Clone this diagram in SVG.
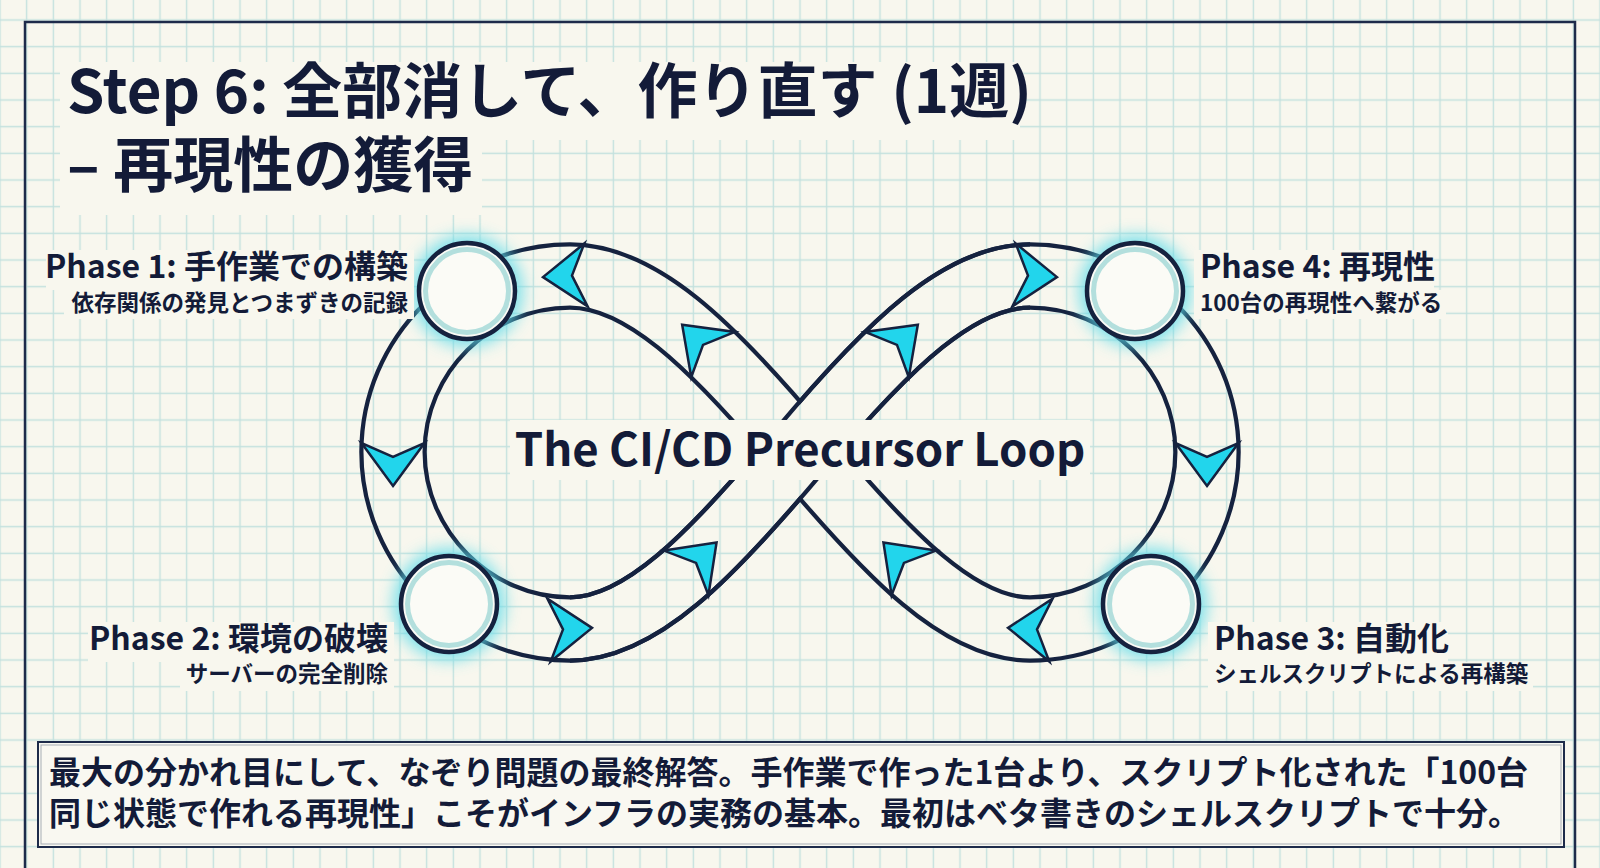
<svg xmlns="http://www.w3.org/2000/svg" width="1600" height="868" viewBox="0 0 1600 868">
<defs>
<style>
.t{font-family:"Noto Sans CJK JP","Noto Sans",sans-serif;font-weight:700;fill:#131b38}
.title{font-size:60px}
.ph{font-size:32px}
.sub{font-size:22.5px}
.ctr{font-size:45.5px}
.body{font-size:32px}
.bg{fill:#f8f7ee}
.ring{fill:#fbfbf6;stroke:#15223f;stroke-width:4.5}
.inner{fill:none;stroke:#b3dfdd;stroke-width:5}
.glow{fill:#5fdcea;opacity:.8}
.arrow{fill:#22d5ec;stroke:#15223f;stroke-width:2.5;stroke-linejoin:miter}
.edge{fill:none;stroke:#15223f;stroke-width:67.5;stroke-linejoin:round}
</style>
<pattern id="grid" patternUnits="userSpaceOnUse" x="-13.333" y="6.667" width="26.667" height="26.667">
<path d="M13.333 0V26.667M0 13.333H26.667" stroke="#c3e1de" stroke-width="1.4" fill="none"/>
</pattern>
<filter id="blur" x="-50%" y="-50%" width="200%" height="200%"><feGaussianBlur stdDeviation="8"/></filter>
<path id="loop" d="M800 450 C890 342.8 960 276 1030 276 C1127 276 1207 355 1207 452 C1207 548 1127 629 1030 629 C960 629 890 557.2 800 450 C710 342.8 640 276 570 276 C473 276 393 355 393 452 C393 548 473 629 570 629 C640 629 710 557.2 800 450 Z"/>
<path id="band2" d="M570 629 C640 629 710 557.2 800 450 C890 342.8 960 276 1030 276"/>
<mask id="m1" maskUnits="userSpaceOnUse" x="0" y="0" width="1600" height="868">
<rect width="1600" height="868" fill="#fff"/>
<use href="#loop" fill="none" stroke="#000" stroke-width="59" stroke-linejoin="round"/>
</mask>
<mask id="m2" maskUnits="userSpaceOnUse" x="0" y="0" width="1600" height="868">
<rect width="1600" height="868" fill="#fff"/>
<use href="#band2" fill="none" stroke="#000" stroke-width="59"/>
</mask>
<path id="arr" d="M22 0 L-21 -31.5 L-7 0 L-21 31.5 Z"/>
</defs>

<rect width="1600" height="868" fill="#f8f7ee"/>
<rect width="1600" height="868" fill="url(#grid)"/>
<rect x="25" y="22" width="1550" height="880" fill="none" stroke="#1d2b4a" stroke-width="2.5"/>

<g id="title">
<rect class="bg" x="60" y="62" width="960" height="78"/>
<rect class="bg" x="60" y="140" width="422" height="75"/>
<text class="t title" x="67" y="113">Step 6: 全部消して、作り直す (1週)</text>
<text class="t title" x="67" y="187">– 再現性の獲得</text>
</g>

<g id="connectors">
<use href="#loop" class="edge" mask="url(#m1)"/>
<use href="#band2" class="edge" mask="url(#m2)"/>
<use href="#arr" class="arrow" transform="translate(565 276) rotate(177)"/>
<use href="#arr" class="arrow" transform="translate(393 464) rotate(90)"/>
<use href="#arr" class="arrow" transform="translate(570 629) rotate(-3)"/>
<use href="#arr" class="arrow" transform="translate(701 558) rotate(-45)"/>
<use href="#arr" class="arrow" transform="translate(698 340) rotate(-136)"/>
<use href="#arr" class="arrow" transform="translate(902 340) rotate(-44)"/>
<use href="#arr" class="arrow" transform="translate(1035 276) rotate(3)"/>
<use href="#arr" class="arrow" transform="translate(1207 464) rotate(90)"/>
<use href="#arr" class="arrow" transform="translate(1030 629) rotate(183)"/>
<use href="#arr" class="arrow" transform="translate(899 558) rotate(-135)"/>
</g>

<g id="phase1">
<circle class="glow" cx="467" cy="291" r="56" filter="url(#blur)"/>
<circle class="ring" cx="467" cy="291" r="48"/>
<circle class="inner" cx="467" cy="291" r="41.5"/>
<rect class="bg" x="46" y="250" width="368" height="40"/>
<rect class="bg" x="64" y="290" width="350" height="29"/>
<text class="t ph" x="408" y="278" text-anchor="end">Phase 1: 手作業での構築</text>
<text class="t sub" x="408" y="311" text-anchor="end">依存関係の発見とつまずきの記録</text>
</g>

<g id="phase2">
<circle class="glow" cx="449" cy="604" r="56" filter="url(#blur)"/>
<circle class="ring" cx="449" cy="604" r="48"/>
<circle class="inner" cx="449" cy="604" r="41.5"/>
<rect class="bg" x="88" y="622" width="306" height="40"/>
<rect class="bg" x="180" y="662" width="214" height="29"/>
<text class="t ph" x="388" y="650" text-anchor="end">Phase 2: 環境の破壊</text>
<text class="t sub" x="388" y="682" text-anchor="end">サーバーの完全削除</text>
</g>

<g id="phase3">
<circle class="glow" cx="1151" cy="604" r="56" filter="url(#blur)"/>
<circle class="ring" cx="1151" cy="604" r="48"/>
<circle class="inner" cx="1151" cy="604" r="41.5"/>
<rect class="bg" x="1208" y="622" width="240" height="40"/>
<rect class="bg" x="1208" y="662" width="325" height="29"/>
<text class="t ph" x="1214" y="650">Phase 3: 自動化</text>
<text class="t sub" x="1214" y="682">シェルスクリプトによる再構築</text>
</g>

<g id="phase4">
<circle class="glow" cx="1135" cy="291" r="56" filter="url(#blur)"/>
<circle class="ring" cx="1135" cy="291" r="48"/>
<circle class="inner" cx="1135" cy="291" r="41.5"/>
<rect class="bg" x="1194" y="250" width="240" height="40"/>
<rect class="bg" x="1194" y="290" width="252" height="29"/>
<text class="t ph" x="1200" y="278">Phase 4: 再現性</text>
<text class="t sub" x="1200" y="311">100台の再現性へ繋がる</text>
</g>

<g id="center-label">
<rect class="bg" x="510" y="420" width="580" height="60"/>
<text class="t ctr" x="800" y="466" text-anchor="middle">The CI/CD Precursor Loop</text>
</g>

<g id="note">
<rect x="38" y="742" width="1526" height="105" fill="#f9f8f1" stroke="#1d2b4a" stroke-width="2"/>
<rect x="41" y="745" width="1520" height="99" fill="none" stroke="#a7adb5" stroke-width="1"/>
<text class="t body" x="49" y="784">最大の分かれ目にして、なぞり問題の最終解答。手作業で作った1台より、スクリプト化された「100台</text>
<text class="t body" x="49" y="825">同じ状態で作れる再現性」こそがインフラの実務の基本。最初はベタ書きのシェルスクリプトで十分。</text>
</g>
</svg>
